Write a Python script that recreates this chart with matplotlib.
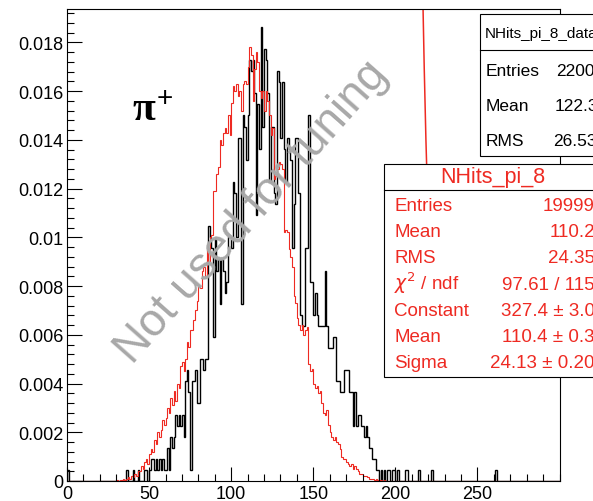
import numpy as np
import matplotlib
matplotlib.use("Agg")
import matplotlib.pyplot as plt
from matplotlib.patches import Rectangle
from matplotlib.ticker import MultipleLocator, FixedLocator, FuncFormatter

plt.rcParams['font.family'] = ['Liberation Sans', 'DejaVu Sans']

# NHits for pi+, 1-hit bins from 0 to 300
nbins = 300
edges = np.arange(0, nbins + 1)

# data (black): raw counts per bin, starting at bin data_lo
data_entries = 2200
data_lo = 36
data_counts = [
    1, 0, 0, 0,
    1, 0, 0, 1, 0, 0, 0, 1, 1, 0,
    1, 2, 2, 1, 2, 1, 2, 1, 2, 1,
    1, 3, 1, 4, 3, 4, 6, 5, 6, 5,
    6, 4, 9, 10, 8, 1, 9, 9, 10, 7,
    7, 11, 11, 10, 11, 11, 23, 22, 21, 13,
    22, 19, 20, 16, 20, 19, 17, 18, 22, 22,
    21, 27, 26, 22, 31, 31, 16, 33, 32, 29,
    33, 38, 37, 38, 35, 24, 34, 30, 41, 32,
    39, 38, 35, 27, 32, 32, 26, 25, 37, 36,
    31, 36, 30, 27, 31, 30, 29, 21, 25, 31,
    31, 26, 15, 14, 14, 21, 21, 33, 18, 18,
    15, 17, 15, 14, 14, 14, 14, 19, 14, 12,
    12, 12, 13, 13, 9, 9, 8, 8, 8, 10,
    10, 10, 8, 8, 5, 8, 5, 6, 6, 5,
    5, 4, 5, 4, 3, 3, 2, 2, 1, 1,
    0, 1, 0, 1, 0, 1, 1, 0, 1, 1,
    0, 1, 0, 0, 0, 0, 1, 1, 0, 0,
    0, 0, 0, 0, 1, 0, 0, 0, 0, 0,
    0, 0, 1,
]
# isolated data entries outside the main block
data_extra = {0: 1, 261: 1}

# MC (red): raw counts per bin, starting at bin mc_lo
mc_entries = 19999
mc_lo = 30
mc_counts = [
    1, 0, 1, 1, 2, 1, 2, 3, 2, 4,
    3, 6, 4, 8, 8, 12, 10, 16, 18, 14,
    22, 26, 24, 34, 30, 40, 36, 42, 50, 46,
    52, 60, 56, 68, 62, 74, 66, 80, 76, 94,
    98, 90, 100, 114, 110, 124, 124, 132, 140, 148,
    160, 158, 172, 176, 168, 190, 180, 200, 202, 238,
    238, 252, 258, 280, 276, 286, 290, 286, 300, 284,
    310, 324, 320, 326, 316, 320, 304, 326, 328, 326,
    340, 356, 350, 312, 338, 352, 344, 320, 314, 320,
    304, 320, 312, 300, 284, 290, 248, 250, 256, 262,
    260, 256, 204, 206, 204, 190, 184, 176, 152, 146,
    134, 128, 124, 128, 120, 124, 126, 96, 90, 92,
    80, 76, 78, 72, 74, 64, 56, 54, 58, 46,
    40, 36, 34, 36, 32, 30, 26, 20, 18, 18,
    16, 14, 12, 14, 10, 12, 10, 8, 6, 6,
    4, 4, 4, 3, 2, 2, 2, 1, 2, 1,
    1, 1, 0, 1,
]

# gaussian fit to the MC (in counts)
fit_const, fit_mean, fit_sigma = 327.4, 110.4, 24.13
fit_range = (20, 222)

data_stats = [("Entries", "2200"), ("Mean", "122.3"), ("RMS", "26.53")]
mc_stats = [("Entries", "19999"), ("Mean", "110.2"), ("RMS", "24.35"),
            (r"$\chi^{2}$ / ndf", "97.61 / 115"), ("Constant", "327.4 ± 3.0"),
            ("Mean", "110.4 ± 0.3"), ("Sigma", "24.13 ± 0.20")]

red = '#ee2a22'

data_h = np.zeros(nbins)
data_h[data_lo:data_lo + len(data_counts)] = data_counts
for b, c in data_extra.items():
    data_h[b] += c
mc_h = np.zeros(nbins)
mc_h[mc_lo:mc_lo + len(mc_counts)] = mc_counts

W, H = 593, 502
fig = plt.figure(figsize=(W / 100, H / 100), dpi=100)
ax = fig.add_axes([67 / W, 1 - 482 / H, (559.5 - 67) / W, (482 - 10) / H])

ax.stairs(data_h / data_entries, edges, color='black', lw=1.0)
ax.stairs(mc_h / mc_entries, edges, color=red, lw=0.8)
xf = np.linspace(fit_range[0], fit_range[1], 600)
ax.plot(xf, fit_const * np.exp(-0.5 * ((xf - fit_mean) / fit_sigma) ** 2),
        color=red, lw=1.1)

ax.set_xlim(0, 300)
ax.set_ylim(0, 0.01937)
ax.xaxis.set_major_locator(FixedLocator([0, 50, 100, 150, 200, 250]))
ax.xaxis.set_minor_locator(MultipleLocator(10))
ax.yaxis.set_major_locator(MultipleLocator(0.002))
ax.yaxis.set_minor_locator(MultipleLocator(0.0004))
ax.yaxis.set_major_formatter(FuncFormatter(lambda v, p: f"{round(v, 6):g}"))
ax.tick_params(which='both', direction='in', top=False, right=False,
               width=0.8, labelsize=13, colors='black')
ax.tick_params(axis='y', which='major', length=10.5, pad=2.7)
ax.tick_params(axis='y', which='minor', length=5)
ax.tick_params(axis='x', which='major', length=10, pad=3)
ax.tick_params(axis='x', which='minor', length=5)
for s in ax.spines.values():
    s.set_linewidth(0.8)

def fx(px):
    return px / W

def fy(py):
    return 1 - py / H

# particle label
fig.text(fx(132), fy(120), "π", fontsize=30, family='Liberation Serif',
         weight='bold', va='baseline', ha='left')
fig.text(fx(165), fy(99.5), "+", fontsize=20, va='center', ha='center')

# watermark
fig.text(fx(252), fy(212), "Not used for tuning", fontsize=33, color='#a8a8a8',
         rotation=48.5, rotation_mode='anchor', ha='center', va='center', zorder=5)

# data stat box
fig.add_artist(Rectangle((fx(480), fy(157)), fx(660) - fx(480), fy(15) - fy(157),
                         transform=fig.transFigure, facecolor='white',
                         edgecolor='black', lw=0.8, zorder=6))
fig.add_artist(plt.Line2D([fx(480), fx(660)], [fy(50.5), fy(50.5)],
                          transform=fig.transFigure, color='black', lw=0.8, zorder=7))
fig.text(fx(485), fy(38.3), "NHits_pi_8_data", fontsize=11, va='baseline', zorder=8)
for i, (lab, val) in enumerate(data_stats):
    yb = 76 + 34.9 * i
    fig.text(fx(486), fy(yb), lab, fontsize=12.5, va='baseline', zorder=8)
    fig.text(fx(556 - i * 1.5), fy(yb), val, fontsize=12.5, va='baseline', zorder=8)

# MC stat box
fig.add_artist(Rectangle((fx(384), fy(378)), fx(660) - fx(384), fy(165) - fy(378),
                         transform=fig.transFigure, facecolor='white',
                         edgecolor='black', lw=0.8, zorder=6))
fig.add_artist(plt.Line2D([fx(384), fx(660)], [fy(191), fy(191)],
                          transform=fig.transFigure, color='black', lw=0.8, zorder=7))
fig.text(fx(493), fy(183.5), "NHits_pi_8", fontsize=15.5, color=red,
         ha='center', va='baseline', zorder=8)
for i, (lab, val) in enumerate(mc_stats):
    yb = 210.7 + 26.3 * i
    fig.text(fx(394), fy(yb), lab, fontsize=13.5, color=red, va='baseline', zorder=8)
    fig.text(fx(595), fy(yb), val, fontsize=13.5, color=red, ha='right',
             va='baseline', zorder=8)

fig.savefig("out.png", dpi=100)
